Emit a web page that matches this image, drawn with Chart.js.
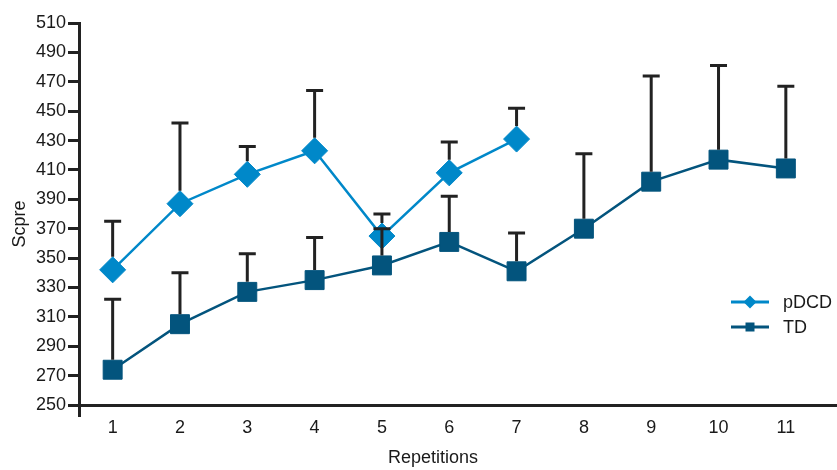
<!DOCTYPE html>
<html>
<head>
<meta charset="utf-8">
<script src="https://cdn.jsdelivr.net/npm/chart.js@4"></script>
<style>
  html, body { margin: 0; padding: 0; background: #fff; }
  #wrap { width: 837px; height: 470px; position: relative; }
</style>
</head>
<body>
<div id="wrap"><canvas id="chart"></canvas></div>
<script>
'use strict';

const repetitions = [1, 2, 3, 4, 5, 6, 7, 8, 9, 10, 11];
const pdcdMean = [342, 387, 407, 423, 365, 408, 431];
const pdcdSD = [33, 55, 19, 41, 15, 21, 21];
const tdMean = [274, 305, 327, 335, 345, 361, 341, 370, 402, 417, 411];
const tdSD = [48, 35, 26, 29, 25, 31, 26, 51, 72, 64, 56];
const yTicks = { min: 250, max: 510, step: 20 };
const xRange = { min: 0.5, max: 11.76 };

const COLORS = {
  pdcd: '#0088c9',
  td: '#03547d',
  axis: '#222222',
  text: '#1a1a1a',
};
const FONT = 'Liberation Sans, Arial, sans-serif';

const toPoints = (vals) => vals.map((v, i) => ({ x: repetitions[i], y: v }));
const isLabelled = (v) => repetitions.includes(v);

// upward-only error bars with a cap, drawn from the marker edge
const errorBars = {
  id: 'errorBars',
  afterDatasetsDraw(chart) {
    const { ctx, scales: { y } } = chart;
    ctx.save();
    ctx.strokeStyle = COLORS.axis;
    ctx.lineWidth = 3;
    chart.data.datasets.forEach((ds, di) => {
      const meta = chart.getDatasetMeta(di);
      meta.data.forEach((pt, i) => {
        const top = y.getPixelForValue(ds.data[i].y + ds.sd[i]);
        const from = pt.y - ds.markerHalf;
        ctx.beginPath();
        ctx.moveTo(pt.x, from);
        ctx.lineTo(pt.x, top);
        ctx.moveTo(pt.x - 8.5, top);
        ctx.lineTo(pt.x + 8.5, top);
        ctx.stroke();
      });
    });
    ctx.restore();
  },
};

// legend (line + marker + label) inside the plot on the right, plus both axis titles
const sideLegend = {
  id: 'sideLegend',
  afterDraw(chart) {
    const { ctx } = chart;
    const x0 = 731, x1 = 769;
    const rows = [
      { ds: chart.data.datasets[0], y: 302 },
      { ds: chart.data.datasets[1], y: 327 },
    ];
    ctx.save();
    ctx.font = '18px ' + FONT;
    rows.forEach(({ ds, y }) => {
      ctx.strokeStyle = ds.borderColor;
      ctx.lineWidth = 3;
      ctx.beginPath();
      ctx.moveTo(x0, y);
      ctx.lineTo(x1, y);
      ctx.stroke();
      const cx = (x0 + x1) / 2;
      ctx.fillStyle = ds.borderColor;
      ctx.beginPath();
      if (ds.pointStyle === 'rectRot') {
        ctx.moveTo(cx - 6.5, y);
        ctx.lineTo(cx, y - 6.5);
        ctx.lineTo(cx + 6.5, y);
        ctx.lineTo(cx, y + 6.5);
      } else {
        ctx.rect(cx - 4.5, y - 4.5, 9, 9);
      }
      ctx.closePath();
      ctx.fill();
      ctx.fillStyle = COLORS.text;
      ctx.textBaseline = 'middle';
      ctx.textAlign = 'left';
      ctx.fillText(ds.label, 783, y + 1);
    });

    ctx.textAlign = 'center';
    ctx.textBaseline = 'middle';
    ctx.fillText('Repetitions', 433, 458);

    ctx.translate(20, 224);
    ctx.rotate(-Math.PI / 2);
    ctx.fillText('Scpre', 0, 0);
    ctx.restore();
  },
};

new Chart(document.getElementById('chart'), {
  type: 'line',
  data: {
    datasets: [
      {
        label: 'pDCD',
        data: toPoints(pdcdMean),
        sd: pdcdSD,
        markerHalf: 13,
        borderColor: COLORS.pdcd,
        backgroundColor: COLORS.pdcd,
        borderWidth: 2.5,
        pointStyle: 'rectRot',
        pointRadius: 13,
        pointBorderWidth: 1,
        tension: 0,
        order: 2,
      },
      {
        label: 'TD',
        data: toPoints(tdMean),
        sd: tdSD,
        markerHalf: 10,
        borderColor: COLORS.td,
        backgroundColor: COLORS.td,
        borderWidth: 2.5,
        pointStyle: 'rect',
        pointRadius: 13.4,
        pointBorderWidth: 1,
        tension: 0,
        order: 1,
      },
    ],
  },
  options: {
    responsive: true,
    maintainAspectRatio: false,
    animation: false,
    layout: { autoPadding: false, padding: { top: 23, right: 0, left: 0, bottom: 0 } },
    plugins: {
      legend: { display: false },
      tooltip: { enabled: false },
    },
    scales: {
      x: {
        type: 'linear',
        min: xRange.min,
        max: xRange.max,
        afterBuildTicks: (s) => {
          s.ticks = [xRange.min].concat(repetitions, [xRange.max]).map(v => ({ value: v }));
        },
        afterFit: (s) => { s.height = 65; },
        border: { display: true, color: COLORS.axis, width: 3 },
        grid: {
          drawOnChartArea: false,
          drawTicks: true,
          tickLength: 12,
          lineWidth: 3,
          color: (c) => (c.tick && c.tick.value === xRange.min ? COLORS.axis : 'rgba(0,0,0,0)'),
          tickColor: (c) => (c.tick && c.tick.value === xRange.min ? COLORS.axis : 'rgba(0,0,0,0)'),
        },
        ticks: {
          padding: 0,
          color: COLORS.text,
          font: { size: 18, family: FONT },
          maxRotation: 0,
          autoSkip: false,
          callback: (v) => (isLabelled(v) ? String(v) : ''),
        },
      },
      y: {
        min: yTicks.min,
        max: yTicks.max,
        afterFit: (s) => { s.width = 79; },
        border: { display: true, color: COLORS.axis, width: 3 },
        grid: {
          drawOnChartArea: false,
          drawTicks: true,
          tickLength: 11,
          tickWidth: 3,
          tickColor: COLORS.axis,
        },
        ticks: {
          stepSize: yTicks.step,
          padding: 2,
          color: COLORS.text,
          font: { size: 18, family: FONT },
        },
      },
    },
  },
  plugins: [errorBars, sideLegend],
});
</script>
</body>
</html>
